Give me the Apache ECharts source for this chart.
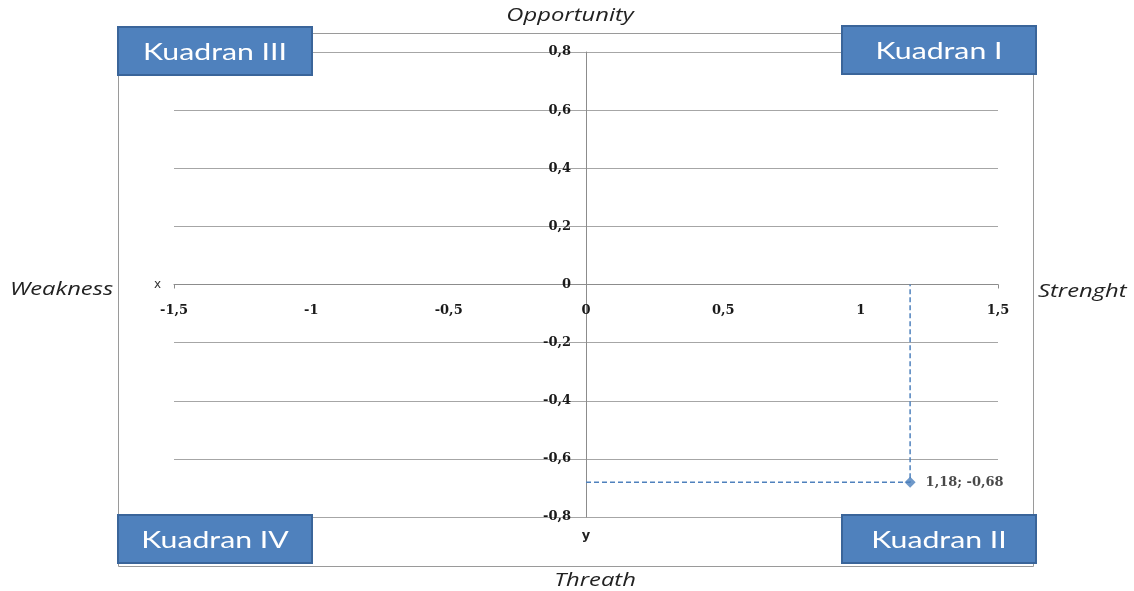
<!DOCTYPE html>
<html>
<head>
<meta charset="utf-8">
<title>Kuadran SWOT</title>
<script src="https://cdn.jsdelivr.net/npm/echarts@6/dist/echarts.min.js"></script>
<style>
  html, body { margin: 0; padding: 0; background: #ffffff; }
  #chart { width: 1134px; height: 591px; }
</style>
</head>
<body>
<div id="chart"></div>
<script>
// Position of the strategy on the SWOT matrix
const pointX = [1.18];   // strengths - weaknesses
const pointY = [-0.68];  // opportunities - threats

// Axis ranges and tick steps
const xRange = [-1.5, 1.5];
const xStep = 0.5;
const yRange = [-0.8, 0.8];
const yStep = 0.2;

// Quadrant captions (top-left, top-right, bottom-left, bottom-right)
const quadrantNames = ['Kuadran III', 'Kuadran I', 'Kuadran IV', 'Kuadran II'];
// Side captions: top, bottom, left, right
const sideNames = ['Opportunity', 'Threath', 'Weakness', 'Strenght'];

const fmt = v => String(Math.round(v * 100) / 100).replace('.', ',');

const W = 1134, H = 591;
const grid = { left: 174, right: 136, top: 52, bottom: 74 };
const plotW = W - grid.left - grid.right;
const plotH = H - grid.top - grid.bottom;

const tickFont = { fontFamily: 'DejaVu Serif', fontWeight: 'bold', fontSize: 13, color: '#1a1a1a' };
const blue = '#4F81BD';
const blueDark = '#3A659A';

const chart = echarts.init(document.getElementById('chart'));

// Blue caption box drawn above the plot lines
function quadBox(x, y, text) {
  return {
    type: 'group', x: x, y: y,
    children: [
      { type: 'rect', z: 100, shape: { x: 0, y: 0, width: 194, height: 48 },
        style: { fill: blue, stroke: blueDark, lineWidth: 2 } },
      { type: 'text', z: 101, x: 97, y: 25, scaleX: 1.26,
        style: { text: text, fill: '#ffffff', font: '24px Lato', align: 'center', verticalAlign: 'middle' } }
    ]
  };
}

function sideText(x, y, text, align) {
  return { type: 'text', x: x, y: y, scaleX: 1.32, z: 100,
    style: { text: text, align: align, verticalAlign: 'middle', fill: '#222222', font: 'italic 18px "Open Sans"' } };
}

chart.setOption({
  animation: false,
  backgroundColor: '#ffffff',
  grid: Object.assign({ containLabel: false }, grid),
  xAxis: {
    type: 'value', min: xRange[0], max: xRange[1], interval: xStep,
    position: 'bottom', offset: -plotH * (0 - yRange[0]) / (yRange[1] - yRange[0]),
    name: 'x', nameLocation: 'start', nameGap: 13,
    nameTextStyle: { fontFamily: 'DejaVu Sans', fontSize: 12, color: '#333', verticalAlign: 'middle' },
    axisLine: { onZero: false, lineStyle: { color: '#8c8c8c', width: 1 } },
    axisTick: { show: true, customValues: [xRange[0], xRange[1]], length: 4, lineStyle: { color: '#8c8c8c' } },
    axisLabel: Object.assign({ margin: 20, formatter: fmt }, tickFont),
    splitLine: { show: false }
  },
  yAxis: {
    type: 'value', min: yRange[0], max: yRange[1], interval: yStep,
    position: 'left', offset: -plotW * (0 - xRange[0]) / (xRange[1] - xRange[0]),
    name: 'y', nameLocation: 'start', nameGap: 12,
    nameTextStyle: { fontFamily: 'DejaVu Sans', fontWeight: 'bold', fontSize: 13, color: '#222' },
    axisLine: { onZero: false, lineStyle: { color: '#8c8c8c', width: 1 } },
    axisTick: { show: false },
    axisLabel: Object.assign({ margin: 15, formatter: fmt }, tickFont),
    splitLine: { show: true, lineStyle: { color: '#a6a6a6', width: 1 } }
  },
  series: [
    {
      type: 'line',
      data: [[0, pointY[0]], [pointX[0], pointY[0]], [pointX[0], 0]],
      showSymbol: false, symbol: 'none', silent: true,
      lineStyle: { color: blue, width: 1.5, type: [5, 3] },
      z: 2
    },
    {
      type: 'scatter',
      data: [[pointX[0], pointY[0]]],
      symbol: 'diamond', symbolSize: [11, 11],
      itemStyle: { color: '#4A7EBB' },
      label: {
        show: true, position: 'right', distance: 10,
        formatter: p => fmt(p.value[0]) + '; ' + fmt(p.value[1]),
        fontFamily: 'DejaVu Serif', fontWeight: 'bold', fontSize: 13, color: '#1a1a1a'
      },
      z: 3
    }
  ],
  graphic: [
    // outer frame of the chart area
    { type: 'rect', shape: { x: 118.5, y: 33.5, width: 915, height: 533 },
      style: { fill: 'none', stroke: '#9a9a9a', lineWidth: 1 }, z: 0, silent: true },
    quadBox(118, 27, quadrantNames[0]),
    quadBox(842, 26, quadrantNames[1]),
    quadBox(118, 515, quadrantNames[2]),
    quadBox(842, 515, quadrantNames[3]),
    sideText(570, 16, sideNames[0], 'center'),
    sideText(595, 581, sideNames[1], 'center'),
    sideText(10, 290, sideNames[2], 'left'),
    sideText(1038, 292, sideNames[3], 'left')
  ]
});
</script>
</body>
</html>
